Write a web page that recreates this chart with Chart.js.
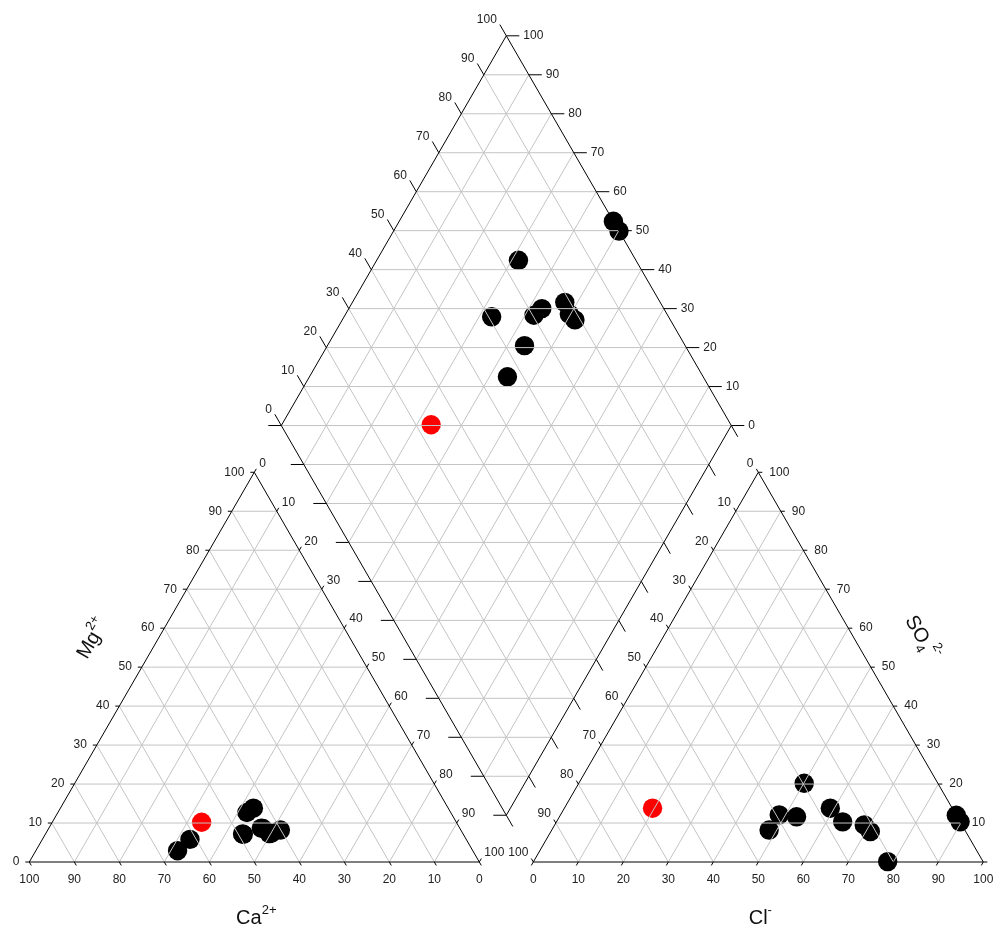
<!DOCTYPE html>
<html>
<head>
<meta charset="utf-8">
<title>Piper diagram</title>
<script src="https://cdn.jsdelivr.net/npm/chart.js@4.4.1/dist/chart.umd.min.js"></script>
<style>
  html, body { margin: 0; padding: 0; background: #fff; }
  #wrap { width: 993px; height: 927px; }
</style>
</head>
<body>
<div id="wrap"><canvas id="piper"></canvas></div>
<script>
// milliequivalent percentages (one entry per sample)
const samples = ["S1", "S2", "S3", "S4", "S5", "S6", "S7", "S8", "S9", "S10", "S11"];
const ca   = [43.8, 42.5, 65.6, 61.4, 45.3, 43.3, 44.1, 43.0, 40.1, 49.0, 48.9];
const mg   = [8.6, 7.4, 2.9, 5.8, 12.7, 13.8, 8.7, 7.3, 8.2, 7.2, 7.1];
const naK  = [47.6, 50.1, 31.5, 32.8, 42.0, 42.9, 47.2, 49.7, 51.7, 43.8, 44.0];
const hco3 = [0.0, 0.0, 26.1, 39.3, 29.7, 27.1, 21.2, 21.7, 21.2, 35.7, 43.5];
const so4  = [12.0, 10.3, 10.3, 12.1, 20.2, 13.8, 7.8, 9.5, 0.1, 11.6, 8.2];
const cl   = [88.0, 89.7, 63.6, 48.6, 50.1, 59.1, 71.0, 68.8, 78.7, 52.7, 48.3];

// the sample drawn in red
const refCa = [56.6];
const refMg = [10.2];
const refNaK = [33.2];
const refHco3 = [66.6];
const refSo4 = [13.8];
const refCl = [19.6];

const tickValues = [0, 10, 20, 30, 40, 50, 60, 70, 80, 90, 100];
const gridValues = [10, 20, 30, 40, 50, 60, 70, 80, 90];

// geometry: triangle side = 100 units
const GAP = 12;
const OFF = 100 + GAP;
const H = Math.sqrt(3) / 2;
const PX = 4.5;              // pixels per unit
const X0 = 29.3, Y0 = 862;   // pixel of the Ca = 100 corner
const W = 993, HT = 927;
const XMIN = -X0 / PX, XMAX = XMIN + W / PX;
const YMAX = Y0 / PX, YMIN = YMAX - HT / PX;

const FONT = '"Liberation Sans", Arial, sans-serif';

function cationXY(c, m, n) {
  const s = c + m + n;
  return { x: (n + m / 2) * 100 / s, y: m * H * 100 / s };
}
function anionXY(h, s4, c) {
  const s = h + s4 + c;
  return { x: OFF + (c + s4 / 2) * 100 / s, y: s4 * H * 100 / s };
}
function diamondXY(n, a) {
  return { x: (n + OFF + a) / 2, y: H * (OFF + a - n) };
}

function piperPoints(c, m, n, h, s4, c2) {
  const pts = [];
  c.forEach((v, i) => pts.push(cationXY(v, m[i], n[i])));
  h.forEach((v, i) => pts.push(anionXY(v, s4[i], c2[i])));
  c.forEach((v, i) => {
    const tc = v + m[i] + n[i];
    const ta = h[i] + s4[i] + c2[i];
    pts.push(diamondXY(100 * n[i] / tc, 100 * (s4[i] + c2[i]) / ta));
  });
  return pts;
}

function drawRich(ctx, parts, x, y) {
  // parts drawn one after another, centred on x, baseline y
  let total = 0;
  parts.forEach((p) => {
    ctx.font = p.size + "px " + FONT;
    p.w = ctx.measureText(p.t).width;
    total += p.w;
  });
  let cx = x - total / 2;
  ctx.textAlign = "left";
  ctx.textBaseline = "alphabetic";
  parts.forEach((p) => {
    ctx.font = p.size + "px " + FONT;
    ctx.fillText(p.t, cx, y + (p.dy || 0));
    cx += p.w;
  });
}

const piperFrame = {
  id: "piperFrame",
  afterDatasetsDraw(chart) {
    const ctx = chart.ctx;
    const sx = chart.scales.x, sy = chart.scales.y;
    const pix = (p) => [sx.getPixelForValue(p.x), sy.getPixelForValue(p.y)];
    const seg = (a, b) => {
      const p = pix(a), q = pix(b);
      ctx.moveTo(p[0], p[1]);
      ctx.lineTo(q[0], q[1]);
    };
    const poly = (list) => {
      list.forEach((pt, i) => {
        const p = pix(pt);
        if (i === 0) ctx.moveTo(p[0], p[1]);
        else ctx.lineTo(p[0], p[1]);
      });
      ctx.closePath();
    };

    ctx.save();

    // grid
    ctx.beginPath();
    gridValues.forEach((k) => {
      seg(cationXY(100 - k, k, 0), cationXY(0, k, 100 - k));
      seg(cationXY(k, 100 - k, 0), cationXY(k, 0, 100 - k));
      seg(cationXY(100 - k, 0, k), cationXY(0, 100 - k, k));
      seg(anionXY(100 - k, k, 0), anionXY(0, k, 100 - k));
      seg(anionXY(k, 100 - k, 0), anionXY(k, 0, 100 - k));
      seg(anionXY(100 - k, 0, k), anionXY(0, 100 - k, k));
      seg(diamondXY(k, 0), diamondXY(k, 100));
      seg(diamondXY(0, k), diamondXY(100, k));
    });
    for (let d = -90; d <= 90; d += 10) {
      seg(diamondXY(Math.max(0, -d), Math.max(0, d)),
          diamondXY(Math.min(100, 100 - d), Math.min(100, 100 + d)));
    }
    ctx.strokeStyle = "#c4c4c4";
    ctx.lineWidth = 1;
    ctx.stroke();

    // outlines
    ctx.beginPath();
    poly([cationXY(100, 0, 0), cationXY(0, 0, 100), cationXY(0, 100, 0)]);
    poly([anionXY(100, 0, 0), anionXY(0, 0, 100), anionXY(0, 100, 0)]);
    poly([diamondXY(100, 0), diamondXY(0, 0), diamondXY(0, 100), diamondXY(100, 100)]);
    ctx.strokeStyle = "#000";
    ctx.stroke();

    // ticks
    const tick = (pt, dx, dy, len) => {
      const p = pix(pt);
      ctx.moveTo(p[0], p[1]);
      ctx.lineTo(p[0] + dx * len, p[1] + dy * len);
    };
    ctx.beginPath();
    tickValues.forEach((v) => {
      tick(cationXY(v, 0, 100 - v), 0.5, H, 4);
      tick(cationXY(100 - v, v, 0), -1, 0, 4);
      tick(cationXY(0, 100 - v, v), 0.5, -H, 4);
      tick(anionXY(100 - v, 0, v), -0.5, H, 4);
      tick(anionXY(v, 100 - v, 0), -0.5, -H, 4);
      tick(anionXY(0, v, 100 - v), 1, 0, 4);
      tick(diamondXY(0, v), -0.5, -H, 13);
      tick(diamondXY(100 - v, 100), 1, 0, 13);
      tick(diamondXY(v, 0), -1, 0, 13);
      tick(diamondXY(100, v), 0.5, H, 13);
    });
    ctx.strokeStyle = "#000";
    ctx.stroke();

    // tick labels
    ctx.fillStyle = "#222";
    ctx.font = "12px " + FONT;
    ctx.textBaseline = "middle";
    const label = (pt, txt, ox, oy, align) => {
      const p = pix(pt);
      ctx.textAlign = align;
      ctx.fillText(String(txt), p[0] + ox, p[1] + oy);
    };
    tickValues.forEach((v) => {
      label(cationXY(v, 0, 100 - v), v, 0, 18, "center");
      label(cationXY(100 - v, v, 0), v, -10, 0, "right");
      label(cationXY(0, 100 - v, v), v, 5, -9, "left");
      label(anionXY(100 - v, 0, v), v, 0, 18, "center");
      label(anionXY(v, 100 - v, 0), v, -5, -9, "right");
      label(anionXY(0, v, 100 - v), v, 11, 0, "left");
      label(diamondXY(0, v), v, -9.5, -16, "right");
      label(diamondXY(100 - v, 100), v, 17, 0, "left");
    });

    // axis titles
    ctx.fillStyle = "#111";
    const midL = pix({ x: 50, y: 0 });
    const midR = pix({ x: OFF + 50, y: 0 });
    drawRich(ctx, [{ t: "Ca", size: 20 }, { t: "2+", size: 13, dy: -10 }], midL[0] + 2, 924);
    drawRich(ctx, [{ t: "Cl", size: 20 }, { t: "-", size: 13, dy: -10 }], midR[0] + 2, 924);

    const sideL = pix(cationXY(50, 50, 0));
    ctx.save();
    ctx.translate(sideL[0] - 58 * H, sideL[1] - 58 * 0.5);
    ctx.rotate(-Math.PI / 3);
    drawRich(ctx, [{ t: "Mg", size: 20 }, { t: "2+", size: 13, dy: -10 }], 0, 7);
    ctx.restore();

    const sideR = pix(anionXY(0, 50, 50));
    ctx.save();
    ctx.translate(sideR[0] + 60 * H, sideR[1] - 60 * 0.5);
    ctx.rotate(Math.PI / 3);
    drawRich(ctx, [{ t: "SO", size: 20 }, { t: "4", size: 13, dy: 5.5 },
                   { t: "2-", size: 13, dy: -11 }], 0, 7);
    ctx.restore();

    ctx.restore();
  }
};

new Chart(document.getElementById("piper"), {
  type: "scatter",
  data: {
    datasets: [
      {
        label: "reference",
        data: piperPoints(refCa, refMg, refNaK, refHco3, refSo4, refCl),
        backgroundColor: "#ff0000",
        order: 0
      },
      {
        label: "samples",
        data: piperPoints(ca, mg, naK, hco3, so4, cl),
        backgroundColor: "#000000",
        order: 1
      }
    ]
  },
  options: {
    responsive: true,
    maintainAspectRatio: false,
    animation: false,
    layout: { padding: 0, autoPadding: false },
    elements: {
      point: { radius: 9.7, hoverRadius: 9.7, borderWidth: 0 }
    },
    datasets: { scatter: { clip: false } },
    plugins: {
      legend: { display: false },
      tooltip: { enabled: false }
    },
    scales: {
      x: { type: "linear", display: false, min: XMIN, max: XMAX },
      y: { type: "linear", display: false, min: YMIN, max: YMAX }
    }
  },
  plugins: [piperFrame]
});
</script>
</body>
</html>
